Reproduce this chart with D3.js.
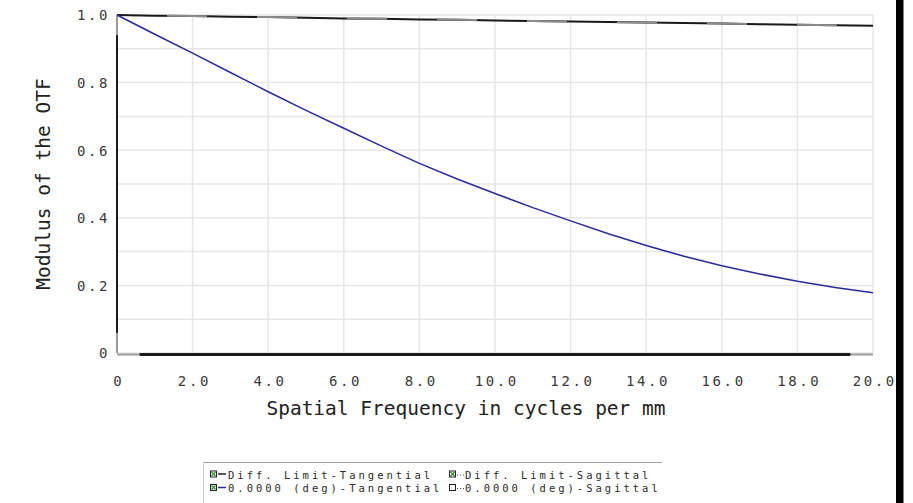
<!DOCTYPE html>
<html>
<head>
<meta charset="utf-8">
<script src="https://cdn.jsdelivr.net/npm/d3@7/dist/d3.min.js"></script>
<style>
  html, body { margin: 0; padding: 0; background: #fff; }
  svg { display: block; }
</style>
</head>
<body>
<svg id="chart" width="913" height="503"></svg>
<script>
// ---- data ----
const freq = [0, 1, 2, 3, 4, 5, 6, 7, 8, 9, 10, 11, 12, 13, 14, 15, 16, 17, 18, 19, 20];
const diffLimit = [1.0, 0.998, 0.997, 0.995, 0.994, 0.992, 0.990, 0.989, 0.987, 0.986, 0.984, 0.982, 0.981, 0.979, 0.978, 0.976, 0.975, 0.973, 0.971, 0.970, 0.968];
const mtf0 = [1.0, 0.943, 0.887, 0.830, 0.773, 0.718, 0.665, 0.612, 0.561, 0.515, 0.472, 0.430, 0.391, 0.353, 0.318, 0.286, 0.258, 0.234, 0.212, 0.194, 0.178];
const xTicks = [0, 2, 4, 6, 8, 10, 12, 14, 16, 18, 20];
const xTickLabels = ["0", "2.0", "4.0", "6.0", "8.0", "10.0", "12.0", "14.0", "16.0", "18.0", "20.0"];
const yTicks = [0, 0.2, 0.4, 0.6, 0.8, 1.0];
const yTickLabels = ["0", "0.2", "0.4", "0.6", "0.8", "1.0"];
const yGrid = [0, 0.1, 0.2, 0.3, 0.4, 0.5, 0.6, 0.7, 0.8, 0.9, 1.0];
const legendItems = [
  { label: "Diff. Limit-Tangential", dash: "solid", checked: true, col: 0, row: 0 },
  { label: "Diff. Limit-Sagittal", dash: "dot", checked: true, col: 1, row: 0 },
  { label: "0.0000 (deg)-Tangential", dash: "solid", checked: true, col: 0, row: 1 },
  { label: "0.0000 (deg)-Sagittal", dash: "dot", checked: false, col: 1, row: 1 }
];
const xTitle = "Spatial Frequency in cycles per mm";
const yTitle = "Modulus of the OTF";

// ---- layout ----
const svg = d3.select("#chart");
const pL = 117, pR = 873, pT = 15, pB = 353;
const x = d3.scaleLinear().domain([0, 20]).range([pL, pR]);
const y = d3.scaleLinear().domain([0, 1]).range([pB, pT]);
const mono = "'DejaVu Sans Mono', 'Liberation Mono', monospace";

// grid
const g = svg.append("g");
g.selectAll("line.hg").data(yGrid).enter().append("line")
  .attr("x1", pL).attr("x2", pR)
  .attr("y1", d => y(d)).attr("y2", d => y(d))
  .attr("stroke", "#e6e6e6").attr("stroke-width", 1.5);
g.selectAll("line.vg").data(xTicks).enter().append("line")
  .attr("x1", d => x(d)).attr("x2", d => x(d))
  .attr("y1", pT).attr("y2", pB)
  .attr("stroke", "#e6e6e6").attr("stroke-width", 1.5);

// axes using d3 axis generators (ticks hidden, labels custom styled)
const xAxis = d3.axisBottom(x).tickValues(xTicks).tickSize(0).tickPadding(0)
  .tickFormat((d, i) => xTickLabels[i]);
const xa = svg.append("g").attr("transform", `translate(0,${pB})`).call(xAxis);
xa.select(".domain").remove();
xa.selectAll("text").attr("y", 33).attr("dy", 0).attr("dx", 1.3)
  .attr("font-family", mono).attr("font-size", 14).attr("letter-spacing", 2.6)
  .attr("fill", "#3a3a3a");

const yAxis = d3.axisLeft(y).tickValues(yTicks).tickSize(0).tickPadding(0)
  .tickFormat((d, i) => yTickLabels[i]);
const ya = svg.append("g").attr("transform", `translate(${pL},0)`).call(yAxis);
ya.select(".domain").remove();
ya.selectAll("text").attr("x", -7).attr("dy", "0.35em")
  .attr("font-family", mono).attr("font-size", 14).attr("letter-spacing", 2.6)
  .attr("fill", "#3a3a3a");

// axis lines
svg.append("line").attr("x1", pL).attr("x2", pR).attr("y1", pB + 1.5).attr("y2", pB + 1.5)
  .attr("stroke", "#9a9a9a").attr("stroke-width", 2);
svg.append("line").attr("x1", x(0.6)).attr("x2", x(19.4)).attr("y1", pB + 1.5).attr("y2", pB + 1.5)
  .attr("stroke", "#1a1a1a").attr("stroke-width", 3);
svg.append("line").attr("x1", pL).attr("x2", pL).attr("y1", pT).attr("y2", pB)
  .attr("stroke", "#9a9a9a").attr("stroke-width", 2);
svg.append("line").attr("x1", pL).attr("x2", pL).attr("y1", y(0.94)).attr("y2", y(0.06))
  .attr("stroke", "#1a1a1a").attr("stroke-width", 2);

// lines
const line = d3.line().x((d, i) => x(freq[i])).y(d => y(d));
svg.append("path").datum(diffLimit).attr("d", line)
  .attr("fill", "none").attr("stroke", "#1a1a1a").attr("stroke-width", 2);
svg.append("path").datum(diffLimit).attr("d", line)
  .attr("fill", "none").attr("stroke", "#8c8c8c").attr("stroke-width", 2)
  .attr("stroke-dasharray", "40,50").attr("stroke-dashoffset", -50);
svg.append("path").datum(mtf0).attr("d", line)
  .attr("fill", "none").attr("stroke", "#2a2a9a").attr("stroke-width", 1.5);

// titles
svg.append("text").attr("x", 466).attr("y", 415)
  .attr("text-anchor", "middle").attr("font-family", mono).attr("font-size", 19.5)
  .attr("fill", "#222").text(xTitle);
svg.append("text").attr("transform", `translate(50,${(pT + pB) / 2}) rotate(-90)`)
  .attr("text-anchor", "middle").attr("font-family", mono).attr("font-size", 19.5)
  .attr("fill", "#222").text(yTitle);

// legend
const lg = svg.append("g");
lg.append("line").attr("x1", 203).attr("x2", 662).attr("y1", 462.5).attr("y2", 462.5)
  .attr("stroke", "#a0a0a0").attr("stroke-width", 1);
lg.append("line").attr("x1", 203.5).attr("x2", 203.5).attr("y1", 462).attr("y2", 503)
  .attr("stroke", "#d0d0d0").attr("stroke-width", 1);
const colX = [210, 449], rowY = [474.5, 488];
const items = lg.selectAll("g.item").data(legendItems).enter().append("g")
  .attr("transform", d => `translate(${colX[d.col]},${rowY[d.row]})`);
items.append("rect").attr("x", 0.5).attr("y", -3.5).attr("width", 6).attr("height", 6)
  .attr("fill", "#fff").attr("stroke", "#222").attr("stroke-width", 1);
items.filter(d => d.checked).append("path")
  .attr("d", "M1.5,-2.5L5.5,1.5M5.5,-2.5L1.5,1.5")
  .attr("stroke", "#2e8b2e").attr("stroke-width", 1.2);
items.filter(d => d.dash === "solid").append("line")
  .attr("x1", 8).attr("x2", 16).attr("y1", -0.5).attr("y2", -0.5)
  .attr("stroke", d => d.row === 1 ? "#2a2a9a" : "#222").attr("stroke-width", 1.5);
items.filter(d => d.dash === "dot").append("line")
  .attr("x1", 8).attr("x2", 15).attr("y1", 0.5).attr("y2", 0.5)
  .attr("stroke", "#444").attr("stroke-width", 1.2).attr("stroke-dasharray", "1,2");
items.append("text").attr("x", d => d.dash === "solid" ? 18 : 16).attr("y", 4)
  .attr("font-family", mono).attr("font-size", 10.5).attr("letter-spacing", 3)
  .attr("fill", "#2a2a2a").text(d => d.label);

// right black bar
svg.append("rect").attr("x", 896).attr("y", 0).attr("width", 7.5).attr("height", 503).attr("fill", "#000");
</script>
</body>
</html>
